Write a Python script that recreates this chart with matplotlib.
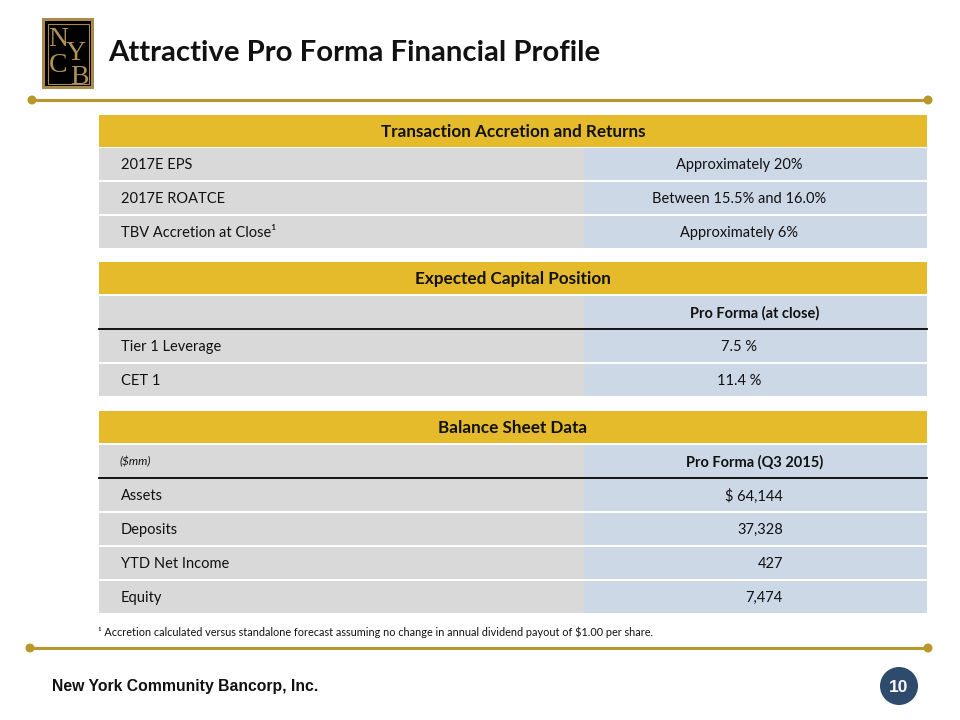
import matplotlib.pyplot as plt
from matplotlib.patches import Rectangle, Circle

# slide text and table contents
title = 'Attractive Pro Forma Financial Profile'
footer = 'New York Community Bancorp, Inc.'
page_num = '10'
footnote = '\u00b9 Accretion calculated versus standalone forecast assuming no change in annual dividend payout of $1.00 per share.'

t1_title = 'Transaction Accretion and Returns'
t1_labels = ['2017E EPS', '2017E ROATCE', 'TBV Accretion at Close\u00b9']
t1_values = ['Approximately 20%', 'Between 15.5% and 16.0%', 'Approximately 6%']

t2_title = 'Expected Capital Position'
t2_colhead = 'Pro Forma (at close)'
t2_labels = ['Tier 1 Leverage', 'CET 1']
t2_values = ['7.5 %', '11.4 %']

t3_title = 'Balance Sheet Data'
t3_unit = '($mm)'
t3_colhead = 'Pro Forma (Q3 2015)'
t3_labels = ['Assets', 'Deposits', 'YTD Net Income', 'Equity']
t3_values = ['$ 64,144', '37,328', '427', '7,474']

GOLD = '#E5BB2B'
LINE_GOLD = '#B8982C'
GRAY = '#D9D9D9'
BLUE = '#CDD8E7'
NAVY = '#2E4B6E'
FONT = ['Lato', 'DejaVu Sans']

fig = plt.figure(figsize=(9.6, 7.2), dpi=100)
ax = fig.add_axes([0, 0, 1, 1])
ax.set_xlim(0, 960)
ax.set_ylim(720, 0)
ax.axis('off')

X0, XS, X1 = 99, 584, 927
PITCH, H = 34, 32


def header(y, txt):
    ax.add_patch(Rectangle((X0, y), X1 - X0, H, color=GOLD, lw=0))
    ax.text((X0 + X1) / 2, y + H / 2 + 1, txt, ha='center', va='center',
            fontsize=12.3, fontweight='bold', family=FONT, color='#111111')


def row(y, label, value, align='center', bold=False, italic=False):
    ax.add_patch(Rectangle((X0, y), XS - X0, H, color=GRAY, lw=0))
    ax.add_patch(Rectangle((XS, y), X1 - XS, H, color=BLUE, lw=0))
    ax.text(121 if not italic else 120, y + H / 2 + 1, label, ha='left', va='center',
            fontsize=8.5 if italic else 10.5, style='italic' if italic else 'normal',
            family=FONT, color='#111111')
    if align == 'center':
        xv, ha = 739, 'center'
    elif align == 'head':
        xv, ha = 755, 'center'
    else:
        xv, ha = 783, 'right'
    ax.text(xv, y + H / 2 + 1, value, ha=ha, va='center', fontsize=10.5,
            fontweight='bold' if bold else 'normal', family=FONT, color='#111111')


# table 1
y = 115
header(y, t1_title)
for i, (lab, val) in enumerate(zip(t1_labels, t1_values)):
    row(y + PITCH * (i + 1) - 1, lab, val)

# table 2
y = 262
header(y, t2_title)
row(y + PITCH, '', t2_colhead, align='head', bold=True)
ax.plot([X0, X1], [y + PITCH + H + 1, y + PITCH + H + 1], color='black', lw=1.3)
for i, (lab, val) in enumerate(zip(t2_labels, t2_values)):
    row(y + PITCH * (i + 2), lab, val)

# table 3
y = 411
header(y, t3_title)
row(y + PITCH, t3_unit, t3_colhead, align='head', bold=True, italic=True)
ax.plot([X0, X1], [y + PITCH + H + 1, y + PITCH + H + 1], color='black', lw=1.3)
for i, (lab, val) in enumerate(zip(t3_labels, t3_values)):
    row(y + PITCH * (i + 2), lab, val, align='right')

# gold rules with end dots
for yl, xa in [(100, 32), (648, 30)]:
    ax.plot([xa, 928], [yl, yl], color=LINE_GOLD, lw=2.2, solid_capstyle='butt')
    for xd in (xa, 928):
        ax.add_patch(Circle((xd, yl), 4.5, color=LINE_GOLD, lw=0))

# logo
ax.add_patch(Rectangle((42, 18), 52, 71, facecolor='#A88A4C', lw=0))
ax.add_patch(Rectangle((45, 21), 46, 65, facecolor='black', lw=0))
ax.add_patch(Rectangle((47.5, 23.5), 41, 60, facecolor='none', edgecolor='#A88A4C', lw=0.8))
logo_col = '#B09255'
for ch, lx, ly in [('N', 58, 39), ('Y', 76, 53), ('C', 58, 66), ('B', 79, 77)]:
    ax.text(lx, ly, ch, ha='center', va='center', fontsize=20, family='Liberation Serif',
            color=logo_col)

# title
ax.text(108, 53, title, ha='left', va='center', fontsize=21.2, fontweight='bold',
        family=FONT, color='#111111')

# footnote
ax.text(98, 632, footnote, ha='left', va='center', fontsize=7.8, family=FONT,
        color='#111111')

# footer
ax.text(52, 686, footer, ha='left', va='center', fontsize=11.3, fontweight='bold',
        family=['Liberation Sans Narrow', 'Liberation Sans', 'DejaVu Sans'], color='#111111')
ax.add_patch(Circle((899, 686), 19, color=NAVY, lw=0))
ax.text(899, 687, page_num, ha='center', va='center', fontsize=12.5, fontweight='bold',
        family=['Liberation Sans', 'DejaVu Sans'], color='white')

fig.savefig('out.png', dpi=100)
